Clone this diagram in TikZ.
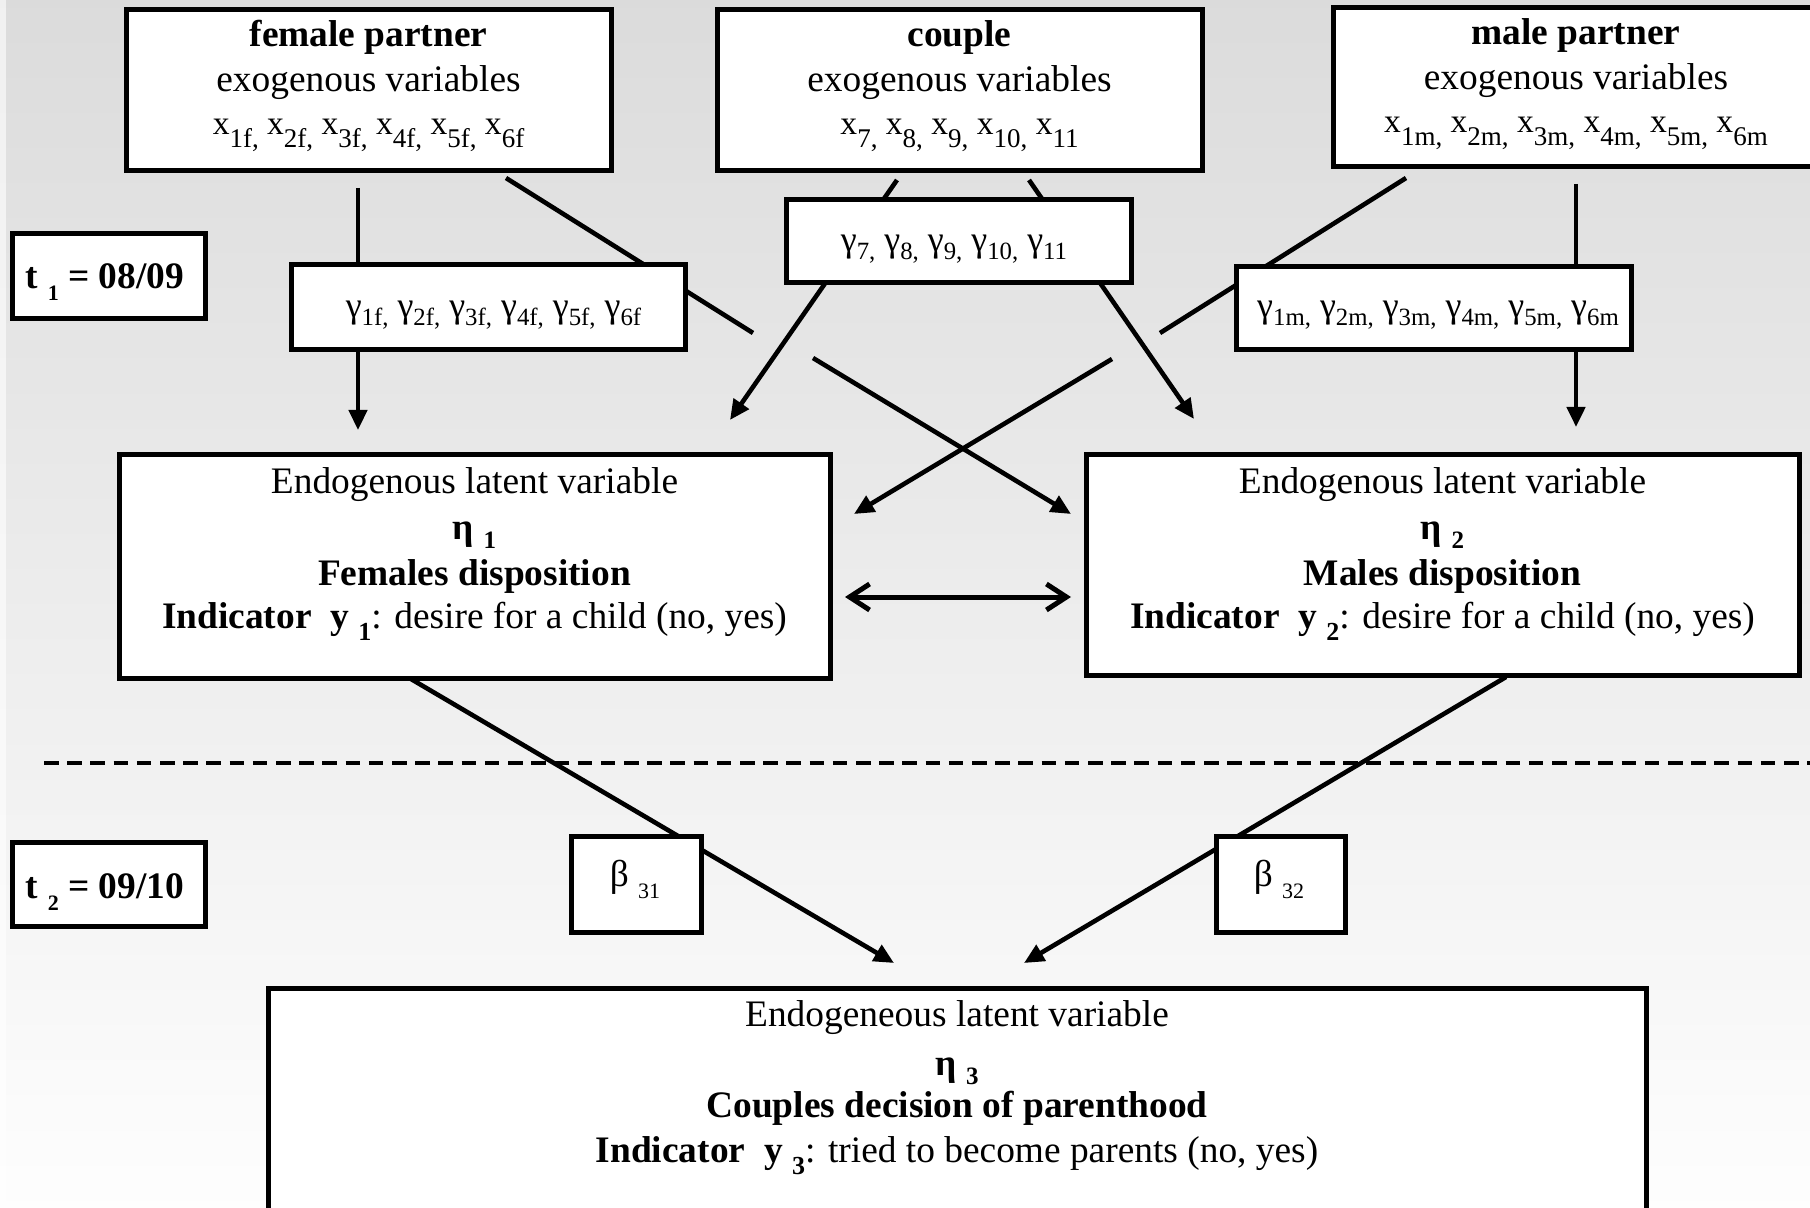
\documentclass[tikz,border=0pt]{standalone}
\usepackage{fontspec}
\setmainfont{Liberation Serif}
\usetikzlibrary{arrows.meta}
\newcommand\lowsub[3]{\raisebox{-#1}{\fontsize{#2}{#2}\selectfont #3}}
\newcommand\xs[1]{\lowsub{6.5pt}{13.5pt}{#1}}
\newcommand\gs[1]{\lowsub{4pt}{12.4pt}{#1}}
\newcommand\fmain{\fontsize{18.7pt}{20pt}\selectfont}
\newcommand\fvar{\fontsize{16.8pt}{18pt}\selectfont}
\newcommand\fgam{\fontsize{18pt}{19pt}\selectfont}
\definecolor{bgtop}{gray}{0.86}
\definecolor{bgmid}{gray}{0.945}
\definecolor{bgbot}{gray}{0.995}
\tikzset{
  bx/.style={draw=black, line width=2.5pt, fill=white, rectangle, inner sep=0pt},
  txt/.style={anchor=base, inner sep=0pt, font=\fmain},
  conn/.style={line width=2.3pt},
  arr/.style={conn, -{Triangle[length=10pt,width=9pt]}},
  dblarr/.style={line width=2.5pt, {Straight Barb[length=10pt,width=13pt]}-{Straight Barb[length=10pt,width=13pt]}},
  sep/.style={line width=1.9pt, dash pattern=on 7.3pt off 4.3pt}
}
\begin{document}
\begin{tikzpicture}[x=0.5pt,y=-0.5pt]
\useasboundingbox (0,0) rectangle (1810,1208);
\shade[top color=bgtop, middle color=bgmid, bottom color=bgbot] (0,0) rectangle (1810,1208);
\fill[white, opacity=0.6] (0,0) rectangle (6,1208);

% connector end points
\coordinate (fvA) at (358,188);   \coordinate (fvB) at (358,430);
\coordinate (fdA) at (506,178);   \coordinate (fdB) at (753,333);
\coordinate (fdC) at (813,358);   \coordinate (fdD) at (1071,514);
\coordinate (mdA) at (1406,178);  \coordinate (mdB) at (1160,333);
\coordinate (mdC) at (1112,359);  \coordinate (mdD) at (854,514);
\coordinate (clA) at (897,180);   \coordinate (clB) at (730,420);
\coordinate (crA) at (1029,180);  \coordinate (crB) at (1194,419);
\coordinate (mvA) at (1576,184);  \coordinate (mvB) at (1576,427);
\coordinate (dbA) at (845,597);   \coordinate (dbB) at (1071,597);
\coordinate (e1A) at (411,679);   \coordinate (e1B) at (894,963);
\coordinate (e2A) at (1506,677);  \coordinate (e2B) at (1024,963);
\coordinate (dsA) at (44,763);    \coordinate (dsB) at (1815,763);

% connectors
\draw[arr] (fvA) -- (fvB);
\draw[conn] (fdA) -- (fdB);
\draw[arr] (fdC) -- (fdD);
\draw[conn] (mdA) -- (mdB);
\draw[arr] (mdC) -- (mdD);
\draw[arr] (clA) -- (clB);
\draw[arr] (crA) -- (crB);
\draw[arr] (mvA) -- (mvB);
\draw[dblarr] (dbA) -- (dbB);
\draw[arr] (e1A) -- (e1B);
\draw[arr] (e2A) -- (e2B);
\draw[sep] (dsA) -- (dsB);

% boxes
\node[bx, minimum width=242.5pt, minimum height=80.5pt] (fbox) at (368.5,90.5) {};
\node[bx, minimum width=242.5pt, minimum height=80.5pt] (cbox) at (959.5,90.5) {};
\node[bx, minimum width=253.5pt, minimum height=79.5pt] (mbox) at (1586.5,87.5) {};
\node[bx, minimum width=96.5pt, minimum height=42.5pt] (t1box) at (108.5,276.5) {};
\node[bx, minimum width=197pt, minimum height=42.5pt] (gfbox) at (488,307.5) {};
\node[bx, minimum width=172.5pt, minimum height=41.5pt] (gcbox) at (958.5,241.5) {};
\node[bx, minimum width=197.5pt, minimum height=41.5pt] (gmbox) at (1433.5,308.5) {};
\node[bx, minimum width=355.5pt, minimum height=111.5pt] (e1box) at (474.5,566.5) {};
\node[bx, minimum width=356.5pt, minimum height=110pt] (e2box) at (1442.5,565) {};
\node[bx, minimum width=96.5pt, minimum height=42pt] (t2box) at (108.5,884) {};
\node[bx, minimum width=65pt, minimum height=48pt] (b1box) at (636,884) {};
\node[bx, minimum width=64.5pt, minimum height=48pt] (b2box) at (1280.5,884) {};
\node[bx, minimum width=689pt, minimum height=126pt] (e3box) at (957,1114) {};

% texts
\node[txt, font=\fmain\bfseries] (ft1) at (368.5,47) {female partner};
\node[txt] (ft2) at (368.5,92) {exogenous variables};
\node[txt, font=\fvar] (ft3) at (368.5,135) {x\xs{1f,} x\xs{2f,} x\xs{3f,} x\xs{4f,} x\xs{5f,} x\xs{6f}};

\node[txt, font=\fmain\bfseries] (ct1) at (959.5,47) {couple};
\node[txt] (ct2) at (959.5,92) {exogenous variables};
\node[txt, font=\fvar] (ct3) at (959.5,135) {x\xs{7,} x\xs{8,} x\xs{9,} x\xs{10,} x\xs{11}};

\node[txt, font=\fmain\bfseries] (mt1) at (1576,45) {male partner};
\node[txt] (mt2) at (1576,90) {exogenous variables};
\node[txt, font=\fvar] (mt3) at (1576,133) {x\xs{1m,} x\xs{2m,} x\xs{3m,} x\xs{4m,} x\xs{5m,} x\xs{6m}};

\node[txt, font=\fmain\bfseries] (t1t) at (105,289) {t \lowsub{6pt}{11pt}{1} = 08/09};
\node[txt, font=\fmain\bfseries] (t2t) at (105,898) {t \lowsub{6pt}{11pt}{2} = 09/10};

\node[txt, font=\fgam] (gft) at (493.5,318) {γ\gs{1f,} γ\gs{2f,} γ\gs{3f,} γ\gs{4f,} γ\gs{5f,} γ\gs{6f}};
\node[txt, font=\fgam] (gct) at (954,252) {γ\gs{7,} γ\gs{8,} γ\gs{9,} γ\gs{10,} γ\gs{11}};
\node[txt, font=\fgam] (gmt) at (1438,318) {γ\gs{1m,} γ\gs{2m,} γ\gs{3m,} γ\gs{4m,} γ\gs{5m,} γ\gs{6m}};

\node[txt] (e1a) at (474.5,494) {Endogenous latent variable};
\node[txt] (e1b) at (474.5,539) {\textbf{η} \lowsub{4.5pt}{12.5pt}{\textbf{1}}};
\node[txt, font=\fmain\bfseries] (e1c) at (474.5,585) {Females disposition};
\node[txt] (e1d) at (474.5,628) {\textbf{Indicator~ y} \lowsub{6pt}{13pt}{\textbf{1}}: desire for a child (no, yes)};

\node[txt] (e2a) at (1442.5,494) {Endogenous latent variable};
\node[txt] (e2b) at (1442.5,539) {\textbf{η} \lowsub{4.5pt}{12.5pt}{\textbf{2}}};
\node[txt, font=\fmain\bfseries] (e2c) at (1442.5,585) {Males disposition};
\node[txt] (e2d) at (1442.5,628) {\textbf{Indicator~ y} \lowsub{6pt}{13pt}{\textbf{2}}: desire for a child (no, yes)};

\node[txt] (b1t) at (635,886) {β \lowsub{6pt}{11pt}{31}};
\node[txt] (b2t) at (1279,886) {β \lowsub{6pt}{11pt}{32}};

\node[txt] (e3a) at (957,1026) {Endogeneous latent variable};
\node[txt] (e3b) at (957,1075) {\textbf{η} \lowsub{4.5pt}{12.5pt}{\textbf{3}}};
\node[txt, font=\fmain\bfseries] (e3c) at (957,1117) {Couples decision of parenthood};
\node[txt] (e3d) at (957,1162) {\textbf{Indicator~ y} \lowsub{6pt}{13pt}{\textbf{3}}: tried to become parents (no, yes)};
\end{tikzpicture}
\end{document}
